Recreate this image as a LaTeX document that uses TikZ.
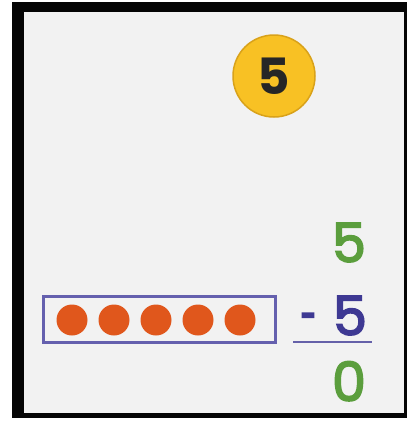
\documentclass[tikz,border=0pt]{standalone}
\usepackage{fontspec}
\usepackage{graphicx}
\setmainfont{Poppins}
\newfontfamily\numfont[FakeBold=3]{Poppins}
\definecolor{frameblack}{HTML}{050505}
\definecolor{bggray}{HTML}{F2F2F2}
\definecolor{coinfill}{HTML}{F8C124}
\definecolor{coinedge}{HTML}{D9A21A}
\definecolor{numgreen}{HTML}{5B9E3D}
\definecolor{numblue}{HTML}{3E3993}
\definecolor{boxblue}{HTML}{6560AE}
\definecolor{dotorange}{HTML}{E0571C}
\tikzset{
  bignum/.style={inner sep=0pt, anchor=base, font=\numfont\fontsize{54}{60}\selectfont},
  dot/.style={circle, fill=dotorange, minimum size=31pt, inner sep=0pt},
}
\begin{document}
\begin{tikzpicture}[x=1pt,y=-1pt]
\useasboundingbox (0,0) rectangle (407,421);
\fill[white] (0,0) rectangle (407,421);
\fill[frameblack] (12,2) rectangle (407,418);
\fill[bggray] (24,12) rectangle (404,413);
% coin
\node[circle, fill=coinfill, draw=coinedge, line width=1.5pt, minimum size=82pt, inner sep=0pt,
      font=\fontsize{50}{56}\selectfont\bfseries, text=black!85] (coin) at (274,76) {\raisebox{-1pt}{5}};
% counters box
\node[draw=boxblue, line width=2.4pt, minimum width=232pt, minimum height=46pt, inner sep=0pt] (box) at (159.5,319.5) {};
\foreach \i/\x in {1/72,2/114,3/156,4/198,5/240}{
  \node[dot] (d\i) at (\x,320) {};
}
% numbers
\node[bignum, text=numgreen] (top) at (349,262) {5};
\node[bignum, text=numblue] (minus) at (308.5,335) {\scalebox{0.55}[1]{-}};
\node[bignum, text=numblue] (sub) at (350,335) {5};
\node[bignum, text=numgreen] (res) at (349,401) {0};
\draw[numblue!80, line width=2.2pt] (293,342) -- (372,342);
\end{tikzpicture}
\end{document}
